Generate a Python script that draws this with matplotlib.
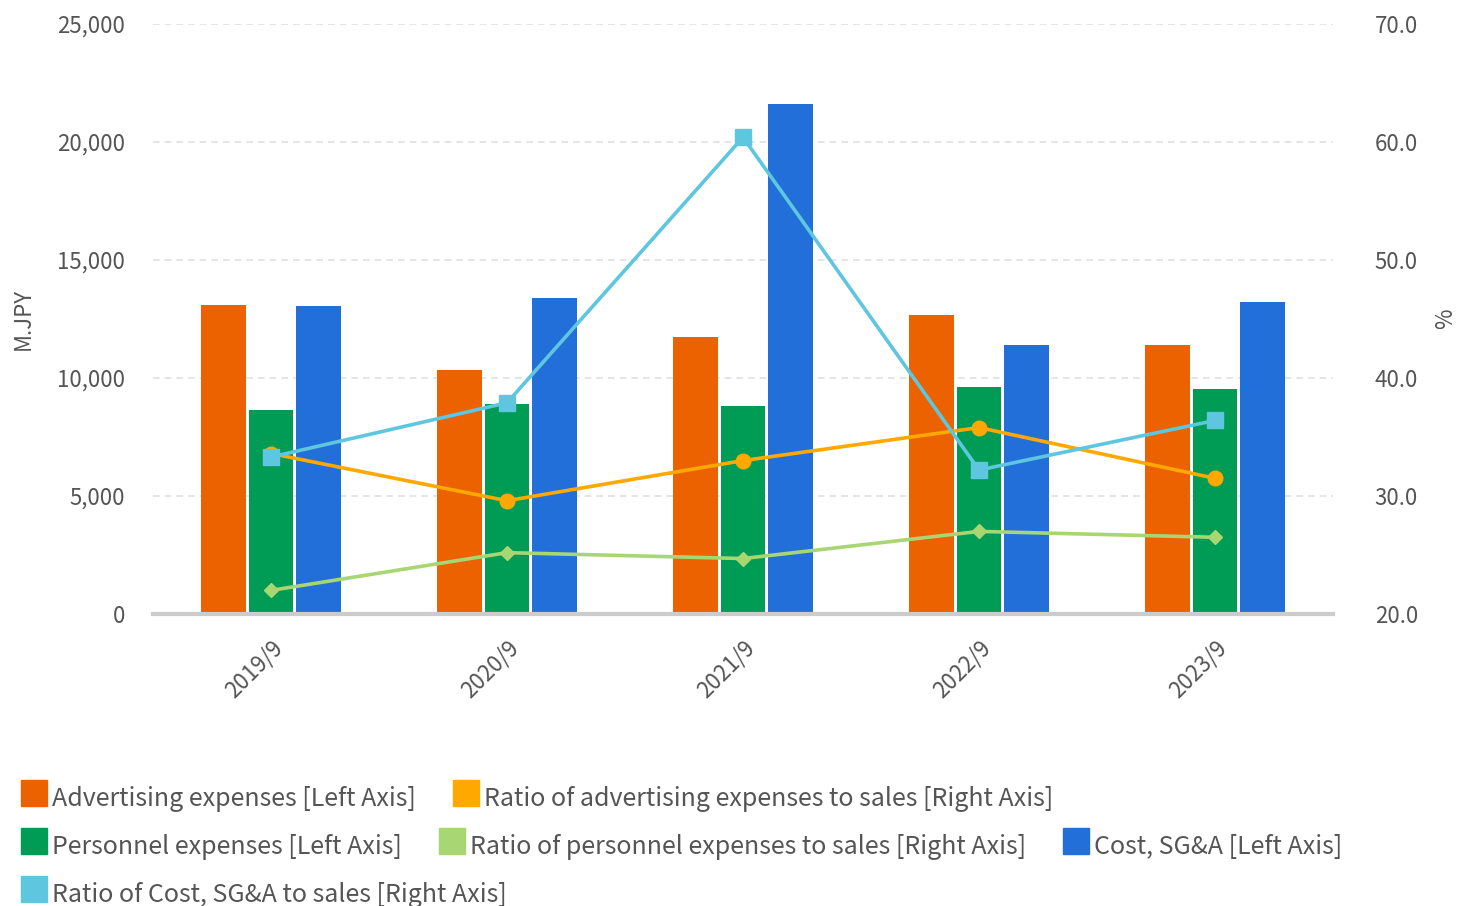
import matplotlib
matplotlib.use("Agg")
import matplotlib.pyplot as plt
import numpy as np
from matplotlib.patches import Rectangle

plt.rcParams['font.family'] = ['Noto Sans CJK JP', 'DejaVu Sans']

# fiscal years and values
years = ["2019/9", "2020/9", "2021/9", "2022/9", "2023/9"]
advertising = [13110, 10320, 11720, 12690, 11380]
personnel = [8630, 8880, 8800, 9600, 9520]
cost_sga = [13030, 13370, 21620, 11380, 13200]
ad_ratio = [33.6, 29.6, 33.0, 35.8, 31.5]
personnel_ratio = [22.0, 25.2, 24.7, 27.0, 26.5]
cost_ratio = [33.3, 37.9, 60.4, 32.2, 36.4]

c_adv = "#EC6100"
c_pers = "#009B55"
c_cost = "#236FD9"
c_adr = "#FFA800"
c_pr = "#A8D672"
c_cr = "#5EC6DE"
grey = "#555555"

W, H = 1457, 906
fig = plt.figure(figsize=(W / 100, H / 100), dpi=100)
ax = fig.add_axes([153 / W, 1 - 614 / H, 1180 / W, 590 / H])
ax2 = ax.twinx()

x = np.arange(len(years))
bw = 0.19
off = 0.2
ax.bar(x - off, advertising, bw, color=c_adv, zorder=2)
ax.bar(x, personnel, bw, color=c_pers, zorder=2)
ax.bar(x + off, cost_sga, bw, color=c_cost, zorder=2)

ax.set_xlim(-0.5, 4.5)
ax.set_ylim(0, 25000)
ax.set_yticks(np.arange(0, 25001, 5000))
ax.set_yticklabels([f"{v:,}" for v in range(0, 25001, 5000)])
ax.yaxis.grid(True, color="#e0e0e0", linestyle=(0, (4, 3)), linewidth=1.2, zorder=0)
ax.set_axisbelow(True)

ax2.plot(x, ad_ratio, color=c_adr, lw=2.6, marker="o", ms=10.5, zorder=3)
ax2.plot(x, personnel_ratio, color=c_pr, lw=2.6, marker="D", ms=7, zorder=3)
ax2.plot(x, cost_ratio, color=c_cr, lw=2.6, marker="s", ms=11, zorder=4)
ax2.set_ylim(20, 70)
ax2.set_yticks(np.arange(20, 71, 10))
ax2.set_yticklabels([f"{v:.1f}" for v in range(20, 71, 10)])

for a in (ax, ax2):
    for s in a.spines.values():
        s.set_visible(False)
    a.tick_params(length=0, labelsize=16, labelcolor=grey)
ax.spines["bottom"].set_visible(True)
ax.spines["bottom"].set_color("#cccccc")
ax.spines["bottom"].set_linewidth(3)
ax.tick_params(axis="y", pad=20)
ax2.tick_params(axis="y", pad=30)

ax.set_xticks(x)
ax.set_xticklabels(years, rotation=45, ha="right", rotation_mode="anchor")
ax.tick_params(axis="x", pad=16)

ax.set_ylabel("M.JPY", color=grey, fontsize=16)
ax2.set_ylabel("%", color=grey, fontsize=16)
ax.yaxis.set_label_coords((35 - 153) / 1180, 0.5)
ax2.yaxis.set_label_coords((1434 - 153) / 1180, 0.5)

# legend laid out as a wrapping row of swatches
items = [
    (c_adv, "Advertising expenses [Left Axis]"),
    (c_adr, "Ratio of advertising expenses to sales [Right Axis]"),
    (c_pers, "Personnel expenses [Left Axis]"),
    (c_pr, "Ratio of personnel expenses to sales [Right Axis]"),
    (c_cost, "Cost, SG&A [Left Axis]"),
    (c_cr, "Ratio of Cost, SG&A to sales [Right Axis]"),
]
renderer = fig.canvas.get_renderer()
px, row_y = 21, 793
for color, label in items:
    t = fig.text(0, 0, label, fontsize=18, color=grey, va="center")
    tw = t.get_window_extent(renderer).width
    if px + 31 + tw > W - 40:
        px = 21
        row_y += 48
    fig.add_artist(Rectangle((px / W, 1 - (row_y + 13) / H), 26 / W, 26 / H,
                             transform=fig.transFigure, color=color))
    t.set_position(((px + 31) / W, 1 - (row_y + 6) / H))
    px = px + 31 + tw + 37

fig.savefig("out.png", dpi=100)
